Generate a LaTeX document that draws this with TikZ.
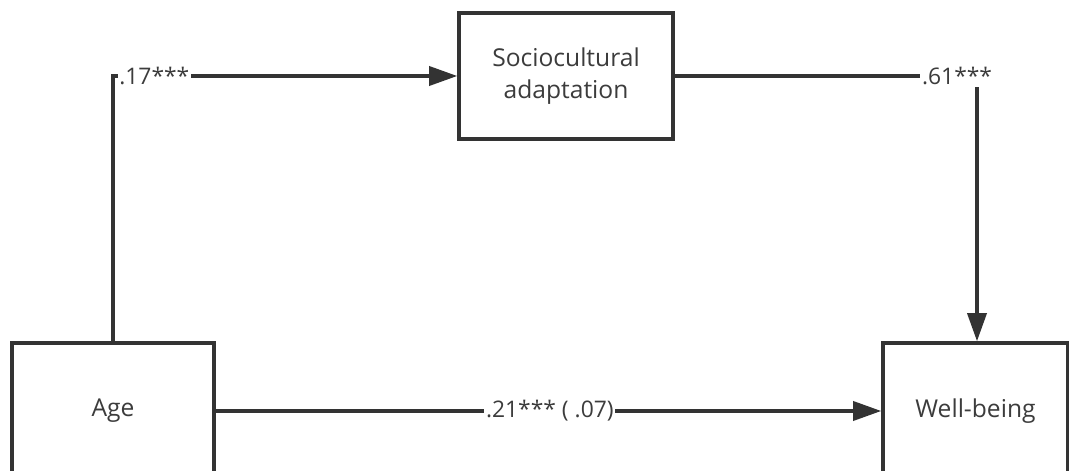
\documentclass[tikz,border=0pt]{standalone}
\usepackage{fontspec}
\setmainfont{Open Sans}
\usepackage{tikz}
\usepackage{xcolor}
\usetikzlibrary{arrows.meta, positioning}
\definecolor{pathGray}{RGB}{51,51,51}
\definecolor{labelGray}{RGB}{60,60,60}
\tikzset{
    varbox/.style={
        rectangle,
        draw=pathGray,
        line width=2pt,
        fill=white,
        align=center,
        text=labelGray,
        inner sep=0pt,
        font=\fontsize{14}{18}\selectfont
    },
    patharrow/.style={-{Triangle[length=5.6mm, width=3.8mm]}, line width=2pt, draw=pathGray},
    coef/.style={fill=white, inner sep=1pt, text=labelGray, font=\fontsize{13}{16}\selectfont}
}

\begin{document}
\begin{tikzpicture}[x=1cm,y=1cm]
        \clip (0,0) rectangle (21.38,-9.42);

        \node[varbox, minimum width=4.04cm, minimum height=2.72cm] (age) at (2.26,-8.22) {Age};
        \node[varbox, minimum width=4.28cm, minimum height=2.52cm] (socio) at (11.32,-1.52) {Sociocultural\\adaptation};
        \node[varbox, minimum width=3.70cm, minimum height=2.72cm] (well) at (19.51,-8.22) {Well-being};

        \draw[patharrow] (age.north) |- node[coef, pos=0.56]{.17***} (socio.west);
        \draw[patharrow] (socio.east) -| node[coef, pos=0.467]{.61***} ([xshift=0.03cm]well.north);
        \draw[patharrow] (age.east) -- node[coef, pos=0.502]{.21*** ( .07)} (well.west);
    \end{tikzpicture}
\end{document}
